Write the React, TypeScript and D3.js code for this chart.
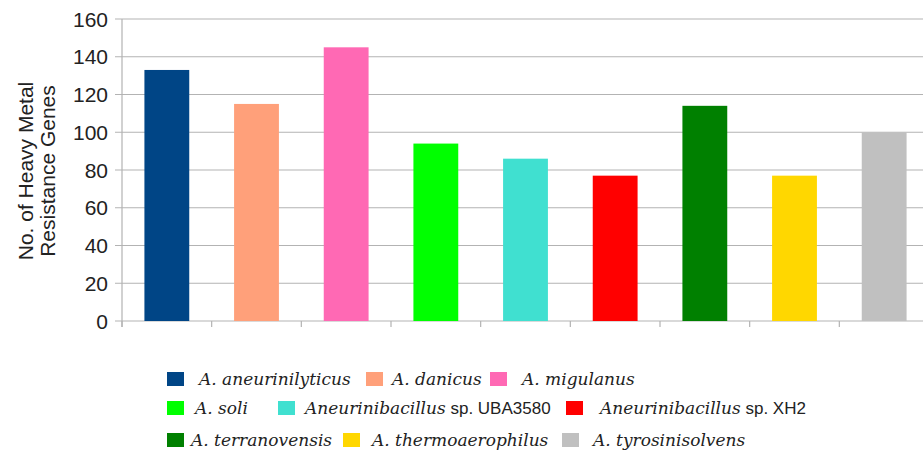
import React from "react";
import * as d3 from "d3";

// Heavy metal resistance gene counts per Aneurinibacillus genome
const species = [
  "A. aneurinilyticus",
  "A. danicus",
  "A. migulanus",
  "A. soli",
  "Aneurinibacillus sp. UBA3580",
  "Aneurinibacillus sp. XH2",
  "A. terranovensis",
  "A. thermoaerophilus",
  "A. tyrosinisolvens",
];
const geneCounts = [133, 115, 145, 94, 86, 77, 114, 77, 100];
const barColors = [
  "#004586",
  "#ffa07a",
  "#ff69b4",
  "#00ff00",
  "#40e0d0",
  "#ff0000",
  "#008000",
  "#ffd700",
  "#c0c0c0",
];
const yTicks = [0, 20, 40, 60, 80, 100, 120, 140, 160];
const yTitleLines = ["No. of Heavy Metal", "Resistance Genes"];

// legend rows (indices into species) and their placement
const legendRows = [
  [0, 1, 2],
  [3, 4, 5],
  [6, 7, 8],
];
const legendLayout = {
  rowY: [379, 408, 440],
  swatchX: [
    [167, 366, 490],
    [167, 278, 566],
    [167, 343, 562],
  ],
  textX: [
    [199, 392, 522],
    [195, 305, 600],
    [191, 372, 593],
  ],
};

const W = 923;
const H = 452;
const plot = { left: 122, right: 929, top: 19, bottom: 321 };

function LegendLabel({ name, x, y }: { name: string; x: number; y: number }) {
  const m = name.match(/^(Aneurinibacillus)( sp\. )(.*)$/);
  const serif = "'DejaVu Serif', 'Liberation Serif', serif";
  const sans = "'Liberation Sans', Arial, sans-serif";
  if (m) {
    return (
      <text x={x} y={y} fontSize={17} fill="#222" fontFamily={serif}>
        <tspan fontStyle="italic">{m[1]}</tspan>
        <tspan fontFamily={sans} fontSize={17}>{" sp. " + m[3]}</tspan>
      </text>
    );
  }
  return (
    <text x={x} y={y} fontSize={17} fill="#222" fontFamily={serif} fontStyle="italic">
      {name}
    </text>
  );
}

export default function App() {
  const x = d3
    .scaleBand<string>()
    .domain(species)
    .range([plot.left, plot.right])
    .paddingInner(0.5)
    .paddingOuter(0.25);
  const y = d3.scaleLinear().domain([0, 160]).range([plot.bottom, plot.top]);
  const step = x.step();
  const boundaries = d3.range(species.length + 1).map((i) => plot.left + i * step);
  const sans = "'Liberation Sans', Arial, sans-serif";

  return (
    <svg
      width={W}
      height={H}
      style={{ position: "absolute", left: 0, top: 0, background: "#fff" }}
    >
      {/* horizontal gridlines with tick stubs */}
      {yTicks.map((t) => (
        <line
          key={"g" + t}
          x1={plot.left - 7}
          x2={W}
          y1={y(t)}
          y2={y(t)}
          stroke="#b3b3b3"
          strokeWidth={1.2}
        />
      ))}
      {/* vertical axis line */}
      <line
        x1={plot.left}
        x2={plot.left}
        y1={plot.top}
        y2={plot.bottom + 6}
        stroke="#b3b3b3"
        strokeWidth={1.2}
      />
      {/* category boundary ticks */}
      {boundaries.map((bx, i) => (
        <line
          key={"b" + i}
          x1={bx}
          x2={bx}
          y1={plot.bottom}
          y2={plot.bottom + 6}
          stroke="#b3b3b3"
          strokeWidth={1.2}
        />
      ))}
      {/* bars */}
      {species.map((s, i) => (
        <rect
          key={s}
          x={x(s)}
          y={y(geneCounts[i])}
          width={x.bandwidth()}
          height={y(0) - y(geneCounts[i])}
          fill={barColors[i]}
        />
      ))}
      {/* y tick labels */}
      {yTicks.map((t) => (
        <text
          key={"t" + t}
          x={108}
          y={y(t)}
          dy="0.36em"
          textAnchor="end"
          fontFamily={sans}
          fontSize={21}
          fill="#222"
        >
          {t}
        </text>
      ))}
      {/* y axis title */}
      {yTitleLines.map((line, i) => (
        <text
          key={line}
          transform={`translate(${33 + i * 22},171) rotate(-90)`}
          textAnchor="middle"
          fontFamily={sans}
          fontSize={21}
          fill="#222"
        >
          {line}
        </text>
      ))}
      {/* legend */}
      {legendRows.map((row, r) =>
        row.map((idx, c) => (
          <g key={"l" + idx}>
            <rect
              x={legendLayout.swatchX[r][c]}
              y={legendLayout.rowY[r] - 7}
              width={17}
              height={14}
              fill={barColors[idx]}
            />
            <LegendLabel
              name={species[idx]}
              x={legendLayout.textX[r][c]}
              y={legendLayout.rowY[r] + 6}
            />
          </g>
        ))
      )}
    </svg>
  );
}
